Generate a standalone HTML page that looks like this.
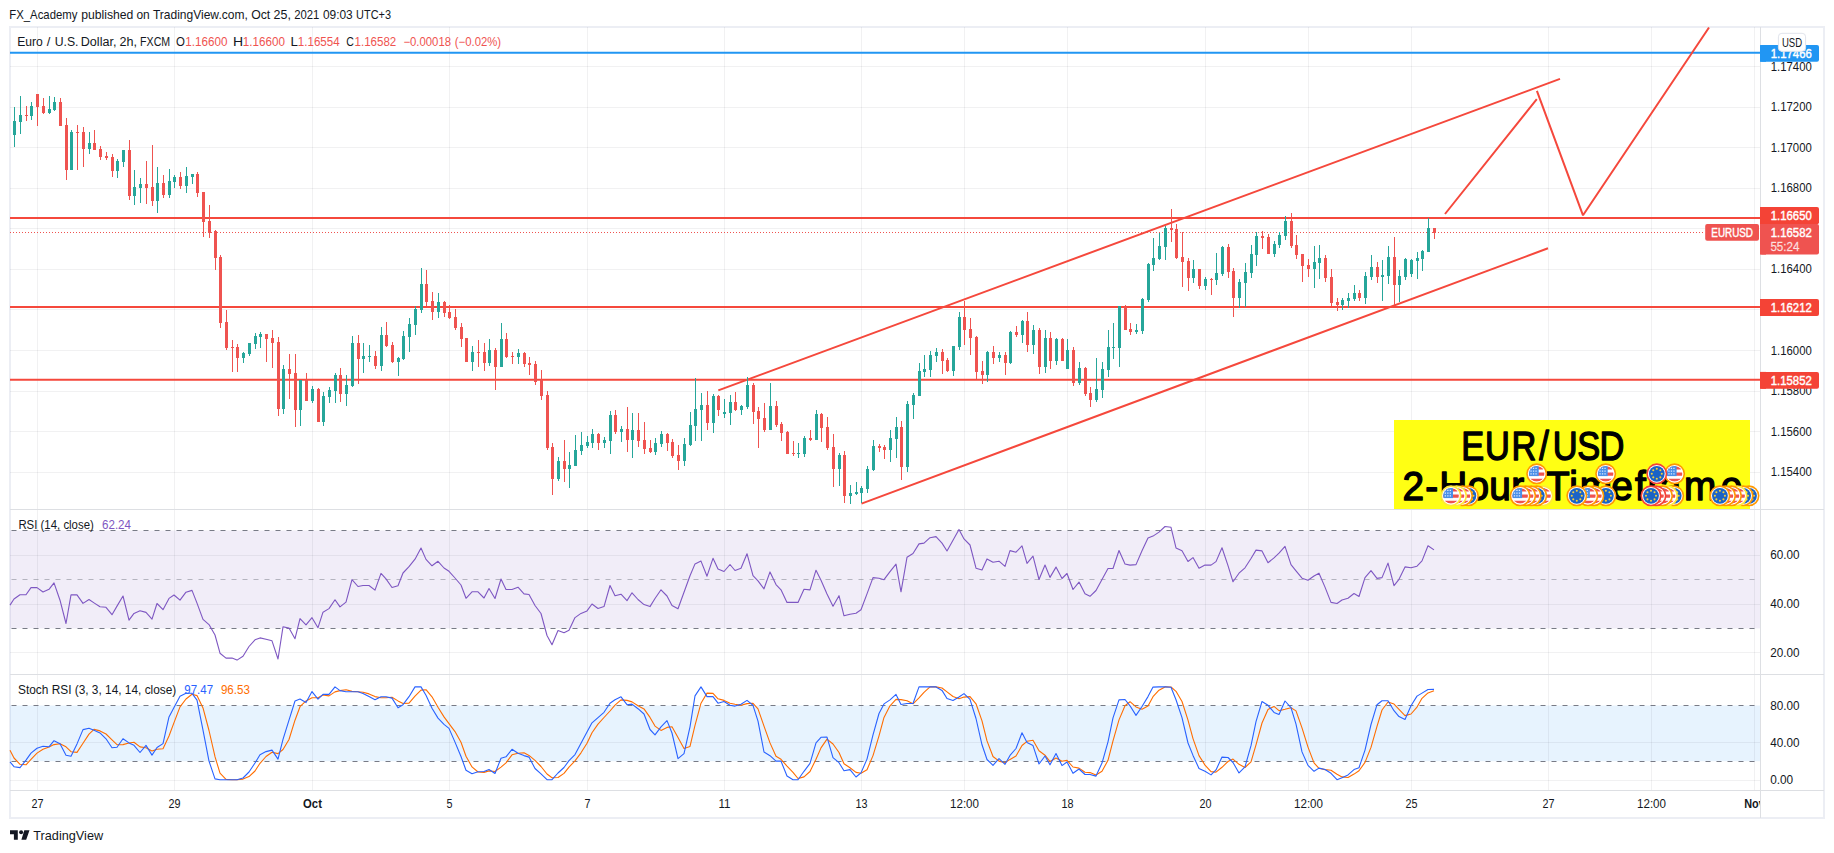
<!DOCTYPE html>
<html lang="en"><head><meta charset="utf-8"><title>EUR/USD 2-Hour Timeframe</title>
<style>html,body{margin:0;padding:0;background:#fff;overflow:hidden}svg{display:block}text{font-family:"Liberation Sans", sans-serif;white-space:pre}</style>
</head><body>
<svg width="1834" height="853" viewBox="0 0 1834 853" font-family='"Liberation Sans", sans-serif'>
<rect x="0" y="0" width="1834" height="853" fill="#fff"/>
<rect x="10" y="27" width="1814" height="791" fill="none" stroke="#eceef4" stroke-width="2"/>
<rect x="10" y="530.5" width="1750.5" height="97.9" fill="#7e57c2" fill-opacity="0.11"/>
<rect x="10" y="705.5" width="1750.5" height="55.7" fill="#2196f3" fill-opacity="0.11"/>
<path d="M37.5 27V790.5M174.5 27V790.5M312.5 27V790.5M449.5 27V790.5M587.5 27V790.5M724.5 27V790.5M861.5 27V790.5M964.5 27V790.5M1067.5 27V790.5M1205.5 27V790.5M1308.5 27V790.5M1411.5 27V790.5M1548.5 27V790.5M1651.5 27V790.5M1754.5 27V790.5M10 66.5H1760.5M10 107.5H1760.5M10 147.5H1760.5M10 188.5H1760.5M10 228.5H1760.5M10 269.5H1760.5M10 309.5H1760.5M10 350.5H1760.5M10 391.5H1760.5M10 431.5H1760.5M10 472.5H1760.5M10 555.5H1760.5M10 604.5H1760.5M10 652.5H1760.5M10 742.5H1760.5M10 780.5H1760.5" stroke="#2a2e39" stroke-opacity="0.065" stroke-width="1" fill="none"/>
<path d="M10 509.5H1824M10 674.5H1824M10 790.5H1824M1760.5 27V818" stroke="#dddfe3" stroke-width="1" fill="none"/>
<path d="M11.5 530.5H1760.5" stroke="#787b86" stroke-opacity="1.0" stroke-width="1" stroke-dasharray="5 6" fill="none"/>
<path d="M11.5 579.5H1760.5" stroke="#787b86" stroke-opacity="0.5" stroke-width="1" stroke-dasharray="5 6" fill="none"/>
<path d="M11.5 628.5H1760.5" stroke="#787b86" stroke-opacity="1.0" stroke-width="1" stroke-dasharray="5 6" fill="none"/>
<path d="M11.5 705.5H1760.5" stroke="#787b86" stroke-opacity="1.0" stroke-width="1" stroke-dasharray="5 6" fill="none"/>
<path d="M11.5 761.5H1760.5" stroke="#787b86" stroke-opacity="1.0" stroke-width="1" stroke-dasharray="5 6" fill="none"/>
<path d="M10 232.5H1705" stroke="#ef5350" stroke-width="1" stroke-dasharray="1 2" fill="none"/>
<path d="M10 52.8H1760.5" stroke="#2196f3" stroke-width="2" fill="none"/>
<path d="M10 218H1760.5M10 307H1760.5M10 379.8H1760.5" stroke="#f5483c" stroke-width="2" fill="none"/>
<path d="M718.3 390.4L1560 78.9M861.5 503.6L1548 248.3" stroke="#f5483c" stroke-width="2" fill="none"/>
<path d="M1445 214L1536.8 99.2M1536.9 90.8L1583 215.3L1709 27.5" stroke="#f5483c" stroke-width="2" fill="none" stroke-linejoin="bevel"/>
<path d="M26 106h1V121h-1zM25 115h3V116h-3zM37 94h1V126h-1zM36 94h3V107h-3zM43 98h1V114h-1zM42 106h3V113h-3zM60 98h1V126h-1zM59 102h3V126h-3zM66 118h1V180h-1zM65 125h3V170h-3zM77 125h1V170h-1zM76 132h3V133h-3zM83 127h1V167h-1zM82 132h3V149h-3zM94 130h1V150h-1zM93 143h3V150h-3zM100 146h1V160h-1zM99 149h3V157h-3zM106 152h1V160h-1zM105 156h3V158h-3zM112 154h1V177h-1zM111 157h3V171h-3zM129 140h1V200h-1zM128 150h3V196h-3zM146 161h1V204h-1zM145 184h3V188h-3zM152 145h1V206h-1zM151 187h3V201h-3zM163 175h1V198h-1zM162 183h3V195h-3zM180 172h1V189h-1zM179 177h3V186h-3zM197 172h1V197h-1zM196 174h3V193h-3zM203 192h1V237h-1zM202 192h3V222h-3zM209 205h1V238h-1zM208 221h3V233h-3zM215 230h1V270h-1zM214 231h3V258h-3zM220 255h1V328h-1zM219 257h3V323h-3zM226 310h1V350h-1zM225 322h3V348h-3zM232 340h1V372h-1zM231 347h3V348h-3zM237 344h1V372h-1zM236 347h3V358h-3zM266 334h1V362h-1zM265 334h3V339h-3zM272 330h1V368h-1zM271 338h3V343h-3zM278 337h1V416h-1zM277 342h3V409h-3zM289 354h1V399h-1zM288 369h3V374h-3zM295 354h1V427h-1zM294 373h3V410h-3zM306 373h1V401h-1zM305 380h3V401h-3zM318 388h1V422h-1zM317 389h3V422h-3zM340 368h1V402h-1zM339 375h3V394h-3zM358 335h1V384h-1zM357 343h3V359h-3zM375 351h1V369h-1zM374 356h3V366h-3zM386 322h1V347h-1zM385 335h3V346h-3zM392 342h1V363h-1zM391 345h3V362h-3zM426 270h1V306h-1zM425 284h3V302h-3zM432 292h1V320h-1zM431 301h3V312h-3zM444 301h1V317h-1zM443 302h3V313h-3zM449 305h1V319h-1zM448 312h3V318h-3zM455 309h1V330h-1zM454 317h3V328h-3zM461 323h1V347h-1zM460 327h3V339h-3zM466 338h1V362h-1zM465 338h3V362h-3zM478 340h1V367h-1zM477 352h3V353h-3zM484 343h1V371h-1zM483 352h3V363h-3zM495 348h1V390h-1zM494 350h3V367h-3zM506 333h1V358h-1zM505 339h3V357h-3zM512 352h1V364h-1zM511 356h3V357h-3zM524 352h1V367h-1zM523 353h3V364h-3zM529 357h1V375h-1zM528 363h3V365h-3zM535 361h1V385h-1zM534 364h3V382h-3zM541 370h1V400h-1zM540 380h3V396h-3zM547 391h1V450h-1zM546 395h3V448h-3zM552 443h1V495h-1zM551 447h3V479h-3zM564 440h1V482h-1zM563 461h3V469h-3zM598 433h1V450h-1zM597 434h3V443h-3zM615 410h1V434h-1zM614 415h3V432h-3zM627 407h1V452h-1zM626 429h3V440h-3zM638 413h1V447h-1zM637 430h3V441h-3zM644 422h1V454h-1zM643 440h3V449h-3zM650 440h1V453h-1zM649 448h3V452h-3zM667 433h1V451h-1zM666 434h3V443h-3zM672 439h1V458h-1zM671 442h3V456h-3zM678 445h1V470h-1zM677 455h3V461h-3zM707 391h1V430h-1zM706 405h3V423h-3zM718 395h1V416h-1zM717 396h3V410h-3zM735 392h1V411h-1zM734 402h3V410h-3zM753 383h1V424h-1zM752 385h3V412h-3zM758 407h1V448h-1zM757 411h3V419h-3zM764 403h1V432h-1zM763 418h3V430h-3zM776 401h1V427h-1zM775 406h3V425h-3zM781 422h1V441h-1zM780 424h3V433h-3zM787 431h1V454h-1zM786 432h3V454h-3zM793 441h1V456h-1zM792 453h3V454h-3zM810 430h1V441h-1zM809 438h3V440h-3zM821 413h1V442h-1zM820 414h3V428h-3zM827 417h1V450h-1zM826 427h3V448h-3zM833 434h1V487h-1zM832 447h3V469h-3zM844 451h1V503h-1zM843 455h3V496h-3zM879 444h1V452h-1zM878 446h3V448h-3zM884 445h1V459h-1zM883 447h3V450h-3zM901 421h1V480h-1zM900 427h3V467h-3zM942 349h1V374h-1zM941 352h3V361h-3zM947 358h1V372h-1zM946 360h3V371h-3zM964 301h1V345h-1zM963 317h3V330h-3zM970 318h1V355h-1zM969 329h3V338h-3zM976 336h1V379h-1zM975 337h3V372h-3zM982 361h1V384h-1zM981 371h3V375h-3zM993 346h1V364h-1zM992 352h3V358h-3zM1005 352h1V375h-1zM1004 355h3V363h-3zM1016 326h1V337h-1zM1015 332h3V335h-3zM1027 312h1V352h-1zM1026 321h3V345h-3zM1039 328h1V374h-1zM1038 330h3V367h-3zM1050 332h1V369h-1zM1049 338h3V361h-3zM1062 338h1V361h-1zM1061 339h3V361h-3zM1073 347h1V386h-1zM1072 350h3V383h-3zM1085 367h1V396h-1zM1084 368h3V394h-3zM1090 387h1V407h-1zM1089 393h3V400h-3zM1125 305h1V330h-1zM1124 307h3V330h-3zM1130 323h1V335h-1zM1129 329h3V332h-3zM1171 209h1V242h-1zM1170 228h3V230h-3zM1176 224h1V259h-1zM1175 229h3V258h-3zM1182 232h1V287h-1zM1181 257h3V262h-3zM1188 258h1V291h-1zM1187 261h3V278h-3zM1199 269h1V289h-1zM1198 269h3V286h-3zM1211 278h1V295h-1zM1210 279h3V280h-3zM1228 244h1V278h-1zM1227 247h3V272h-3zM1233 268h1V317h-1zM1232 271h3V298h-3zM1262 231h1V249h-1zM1261 236h3V238h-3zM1268 234h1V254h-1zM1267 237h3V254h-3zM1291 213h1V248h-1zM1290 221h3V246h-3zM1296 235h1V259h-1zM1295 245h3V255h-3zM1302 254h1V282h-1zM1301 254h3V266h-3zM1308 259h1V277h-1zM1307 265h3V269h-3zM1325 255h1V282h-1zM1324 258h3V278h-3zM1331 269h1V306h-1zM1330 277h3V303h-3zM1337 298h1V311h-1zM1336 302h3V305h-3zM1359 290h1V301h-1zM1358 293h3V298h-3zM1377 262h1V283h-1zM1376 267h3V277h-3zM1394 237h1V305h-1zM1393 257h3V285h-3zM1434 228h1V239h-1zM1433 228h3V233h-3z" fill="#ef5350" shape-rendering="crispEdges"/>
<path d="M14 107h1V147h-1zM13 121h3V135h-3zM20 96h1V134h-1zM19 115h3V122h-3zM31 102h1V120h-1zM30 106h3V116h-3zM49 96h1V114h-1zM48 109h3V113h-3zM54 97h1V111h-1zM53 102h3V110h-3zM71 130h1V170h-1zM70 132h3V170h-3zM89 132h1V154h-1zM88 143h3V149h-3zM117 159h1V178h-1zM116 161h3V171h-3zM123 150h1V167h-1zM122 150h3V162h-3zM134 170h1V205h-1zM133 187h3V196h-3zM140 178h1V203h-1zM139 184h3V188h-3zM157 167h1V213h-1zM156 183h3V201h-3zM169 169h1V198h-1zM168 181h3V195h-3zM174 175h1V188h-1zM173 177h3V182h-3zM186 167h1V193h-1zM185 176h3V186h-3zM192 174h1V184h-1zM191 174h3V177h-3zM243 352h1V363h-1zM242 353h3V358h-3zM249 343h1V356h-1zM248 343h3V354h-3zM255 333h1V349h-1zM254 336h3V344h-3zM260 332h1V348h-1zM259 334h3V337h-3zM283 365h1V414h-1zM282 369h3V409h-3zM300 380h1V426h-1zM299 380h3V410h-3zM312 386h1V403h-1zM311 389h3V401h-3zM323 392h1V426h-1zM322 396h3V422h-3zM329 387h1V403h-1zM328 390h3V397h-3zM335 373h1V403h-1zM334 375h3V391h-3zM346 375h1V406h-1zM345 385h3V394h-3zM352 336h1V387h-1zM351 343h3V386h-3zM363 343h1V373h-1zM362 356h3V359h-3zM369 345h1V362h-1zM368 356h3V357h-3zM381 327h1V371h-1zM380 335h3V366h-3zM398 357h1V376h-1zM397 358h3V362h-3zM403 331h1V360h-1zM402 336h3V359h-3zM409 318h1V352h-1zM408 324h3V337h-3zM415 306h1V335h-1zM414 309h3V325h-3zM421 268h1V313h-1zM420 284h3V310h-3zM438 293h1V318h-1zM437 302h3V312h-3zM472 346h1V371h-1zM471 352h3V362h-3zM489 339h1V366h-1zM488 350h3V363h-3zM501 323h1V367h-1zM500 339h3V367h-3zM518 349h1V364h-1zM517 353h3V357h-3zM558 457h1V481h-1zM557 461h3V479h-3zM569 452h1V488h-1zM568 465h3V469h-3zM575 435h1V466h-1zM574 450h3V466h-3zM581 432h1V455h-1zM580 445h3V451h-3zM587 436h1V448h-1zM586 442h3V446h-3zM592 429h1V448h-1zM591 434h3V443h-3zM604 437h1V448h-1zM603 440h3V443h-3zM610 411h1V454h-1zM609 415h3V441h-3zM621 426h1V442h-1zM620 429h3V432h-3zM632 413h1V458h-1zM631 430h3V440h-3zM655 438h1V455h-1zM654 443h3V452h-3zM661 431h1V447h-1zM660 434h3V444h-3zM684 438h1V466h-1zM683 444h3V461h-3zM690 412h1V446h-1zM689 425h3V445h-3zM695 378h1V441h-1zM694 409h3V426h-3zM701 393h1V441h-1zM700 405h3V410h-3zM713 394h1V433h-1zM712 396h3V423h-3zM724 399h1V418h-1zM723 412h3V414h-3zM730 395h1V425h-1zM729 402h3V413h-3zM741 405h1V415h-1zM740 406h3V410h-3zM747 377h1V409h-1zM746 385h3V407h-3zM770 383h1V430h-1zM769 406h3V430h-3zM798 443h1V458h-1zM797 453h3V454h-3zM804 436h1V457h-1zM803 438h3V454h-3zM816 410h1V440h-1zM815 414h3V440h-3zM839 453h1V486h-1zM838 455h3V469h-3zM850 485h1V504h-1zM849 493h3V496h-3zM856 482h1V495h-1zM855 492h3V494h-3zM861 486h1V503h-1zM860 488h3V493h-3zM867 466h1V493h-1zM866 469h3V489h-3zM873 440h1V471h-1zM872 446h3V470h-3zM890 430h1V462h-1zM889 438h3V450h-3zM896 417h1V458h-1zM895 427h3V439h-3zM907 401h1V472h-1zM906 404h3V467h-3zM913 393h1V419h-1zM912 395h3V405h-3zM919 363h1V396h-1zM918 371h3V396h-3zM924 355h1V377h-1zM923 369h3V372h-3zM930 351h1V377h-1zM929 355h3V370h-3zM936 348h1V362h-1zM935 352h3V356h-3zM953 346h1V376h-1zM952 346h3V371h-3zM959 312h1V350h-1zM958 317h3V347h-3zM987 351h1V382h-1zM986 352h3V375h-3zM999 352h1V362h-1zM998 355h3V358h-3zM1010 331h1V364h-1zM1009 332h3V363h-3zM1022 320h1V343h-1zM1021 321h3V335h-3zM1033 325h1V354h-1zM1032 330h3V345h-3zM1045 330h1V373h-1zM1044 338h3V367h-3zM1056 338h1V365h-1zM1055 339h3V361h-3zM1067 339h1V369h-1zM1066 350h3V369h-3zM1079 362h1V385h-1zM1078 368h3V383h-3zM1096 358h1V402h-1zM1095 389h3V400h-3zM1102 362h1V398h-1zM1101 369h3V390h-3zM1108 330h1V377h-1zM1107 347h3V370h-3zM1113 323h1V359h-1zM1112 347h3V348h-3zM1119 306h1V367h-1zM1118 306h3V348h-3zM1136 324h1V334h-1zM1135 330h3V332h-3zM1142 298h1V334h-1zM1141 299h3V331h-3zM1148 263h1V302h-1zM1147 264h3V300h-3zM1153 238h1V271h-1zM1152 258h3V265h-3zM1159 233h1V260h-1zM1158 246h3V259h-3zM1165 226h1V260h-1zM1164 228h3V247h-3zM1193 260h1V283h-1zM1192 269h3V278h-3zM1205 277h1V290h-1zM1204 279h3V286h-3zM1216 253h1V285h-1zM1215 273h3V280h-3zM1222 246h1V276h-1zM1221 247h3V274h-3zM1239 279h1V308h-1zM1238 282h3V298h-3zM1245 263h1V307h-1zM1244 272h3V283h-3zM1251 245h1V278h-1zM1250 254h3V273h-3zM1256 232h1V266h-1zM1255 236h3V255h-3zM1274 241h1V257h-1zM1273 244h3V254h-3zM1279 232h1V248h-1zM1278 235h3V245h-3zM1285 216h1V240h-1zM1284 221h3V236h-3zM1314 246h1V288h-1zM1313 262h3V269h-3zM1319 245h1V279h-1zM1318 258h3V263h-3zM1342 298h1V310h-1zM1341 300h3V305h-3zM1348 293h1V308h-1zM1347 298h3V301h-3zM1354 285h1V301h-1zM1353 293h3V299h-3zM1365 272h1V304h-1zM1364 276h3V298h-3zM1371 255h1V280h-1zM1370 267h3V277h-3zM1382 260h1V301h-1zM1381 275h3V277h-3zM1388 246h1V284h-1zM1387 257h3V276h-3zM1399 270h1V302h-1zM1398 276h3V285h-3zM1405 258h1V280h-1zM1404 259h3V277h-3zM1411 259h1V277h-1zM1410 260h3V274h-3zM1417 252h1V279h-1zM1416 258h3V261h-3zM1422 250h1V271h-1zM1421 251h3V259h-3zM1428 218h1V252h-1zM1427 228h3V252h-3z" fill="#26a69a" shape-rendering="crispEdges"/>
<rect x="1394" y="420" width="356" height="89" fill="#ffff14"/>
<text transform="scale(0.86 1)" x="1699.0 1726.9 1757.6 1789.8 1805.6 1834.1 1859.8" y="459.6" font-size="40" fill="#000" stroke="#000" stroke-width="1.4" stroke-linejoin="round" xml:space="preserve">EUR/USD</text>
<text transform="scale(0.97 1)" x="1445.8 1469.3 1483.7 1512.9 1535.3 1558.1 1578.1 1593.9 1617.7 1628.7 1661.1 1685.6 1698.5 1710.7 1736.2 1774.0" y="499.8" font-size="40" fill="#000" stroke="#000" stroke-width="1.4" stroke-linejoin="round" xml:space="preserve">2-Hour Timeframe</text>
<g transform="translate(1468.4 495.8)"><circle r="9.7" fill="#fff" stroke="#ff9800" stroke-width="1.6"/><circle r="7.9" fill="#1b63c6"/><g fill="#f2cf3c"><circle cx="5.00" cy="0.00" r="1.05"/><circle cx="3.54" cy="3.54" r="1.05"/><circle cx="0.00" cy="5.00" r="1.05"/><circle cx="-3.54" cy="3.54" r="1.05"/><circle cx="-5.00" cy="0.00" r="1.05"/><circle cx="-3.54" cy="-3.54" r="1.05"/><circle cx="-0.00" cy="-5.00" r="1.05"/><circle cx="3.54" cy="-3.54" r="1.05"/></g></g>
<g transform="translate(1462.5 495.8)"><circle r="9.7" fill="#fff" stroke="#ff9800" stroke-width="1.6"/><clipPath id="c22"><circle r="7.8"/></clipPath><g clip-path="url(#c22)"><rect x="-8" y="-8" width="16" height="16" fill="#fff"/><path d="M-8 -5.8h16M-8 0.3h16M-8 6.4h16" stroke="#ef5350" stroke-width="3.1"/><rect x="-8" y="-8" width="10" height="10.3" fill="#4a8fe8"/><path d="M-6.3 -5.4h7M-6.3 -2.7h7M-6.3 0h7" stroke="#dbe9fb" stroke-width="1.2" stroke-dasharray="1.3 1.2"/></g></g>
<g transform="translate(1456.6 495.8)"><circle r="9.7" fill="#fff" stroke="#ffe838" stroke-width="1.6"/><clipPath id="c23"><circle r="7.8"/></clipPath><g clip-path="url(#c23)"><rect x="-8" y="-8" width="16" height="16" fill="#fff"/><path d="M-8 -5.8h16M-8 0.3h16M-8 6.4h16" stroke="#ef5350" stroke-width="3.1"/><rect x="-8" y="-8" width="10" height="10.3" fill="#4a8fe8"/><path d="M-6.3 -5.4h7M-6.3 -2.7h7M-6.3 0h7" stroke="#dbe9fb" stroke-width="1.2" stroke-dasharray="1.3 1.2"/></g></g>
<g transform="translate(1451.0 495.8)"><circle r="9.7" fill="#fff" stroke="#ffe838" stroke-width="1.6"/><clipPath id="c24"><circle r="7.8"/></clipPath><g clip-path="url(#c24)"><rect x="-8" y="-8" width="16" height="16" fill="#fff"/><path d="M-8 -5.8h16M-8 0.3h16M-8 6.4h16" stroke="#ef5350" stroke-width="3.1"/><rect x="-8" y="-8" width="10" height="10.3" fill="#4a8fe8"/><path d="M-6.3 -5.4h7M-6.3 -2.7h7M-6.3 0h7" stroke="#dbe9fb" stroke-width="1.2" stroke-dasharray="1.3 1.2"/></g></g>
<g transform="translate(1543.0 495.8)"><circle r="9.7" fill="#fff" stroke="#ffe838" stroke-width="1.6"/><clipPath id="c25"><circle r="7.8"/></clipPath><g clip-path="url(#c25)"><rect x="-8" y="-8" width="16" height="16" fill="#fff"/><path d="M-8 -5.8h16M-8 0.3h16M-8 6.4h16" stroke="#ef5350" stroke-width="3.1"/><rect x="-8" y="-8" width="10" height="10.3" fill="#4a8fe8"/><path d="M-6.3 -5.4h7M-6.3 -2.7h7M-6.3 0h7" stroke="#dbe9fb" stroke-width="1.2" stroke-dasharray="1.3 1.2"/></g></g>
<g transform="translate(1536.8 495.8)"><circle r="9.7" fill="#fff" stroke="#ff9800" stroke-width="1.6"/><circle r="7.9" fill="#1b63c6"/><g fill="#f2cf3c"><circle cx="5.00" cy="0.00" r="1.05"/><circle cx="3.54" cy="3.54" r="1.05"/><circle cx="0.00" cy="5.00" r="1.05"/><circle cx="-3.54" cy="3.54" r="1.05"/><circle cx="-5.00" cy="0.00" r="1.05"/><circle cx="-3.54" cy="-3.54" r="1.05"/><circle cx="-0.00" cy="-5.00" r="1.05"/><circle cx="3.54" cy="-3.54" r="1.05"/></g></g>
<g transform="translate(1531.2 495.8)"><circle r="9.7" fill="#fff" stroke="#ff9800" stroke-width="1.6"/><clipPath id="c27"><circle r="7.8"/></clipPath><g clip-path="url(#c27)"><rect x="-8" y="-8" width="16" height="16" fill="#fff"/><path d="M-8 -5.8h16M-8 0.3h16M-8 6.4h16" stroke="#ef5350" stroke-width="3.1"/><rect x="-8" y="-8" width="10" height="10.3" fill="#4a8fe8"/><path d="M-6.3 -5.4h7M-6.3 -2.7h7M-6.3 0h7" stroke="#dbe9fb" stroke-width="1.2" stroke-dasharray="1.3 1.2"/></g></g>
<g transform="translate(1525.7 495.8)"><circle r="9.7" fill="#fff" stroke="#ff9800" stroke-width="1.6"/><clipPath id="c28"><circle r="7.8"/></clipPath><g clip-path="url(#c28)"><rect x="-8" y="-8" width="16" height="16" fill="#fff"/><path d="M-8 -5.8h16M-8 0.3h16M-8 6.4h16" stroke="#ef5350" stroke-width="3.1"/><rect x="-8" y="-8" width="10" height="10.3" fill="#4a8fe8"/><path d="M-6.3 -5.4h7M-6.3 -2.7h7M-6.3 0h7" stroke="#dbe9fb" stroke-width="1.2" stroke-dasharray="1.3 1.2"/></g></g>
<g transform="translate(1520.1 495.8)"><circle r="9.7" fill="#fff" stroke="#ff9800" stroke-width="1.6"/><clipPath id="c29"><circle r="7.8"/></clipPath><g clip-path="url(#c29)"><rect x="-8" y="-8" width="16" height="16" fill="#fff"/><path d="M-8 -5.8h16M-8 0.3h16M-8 6.4h16" stroke="#ef5350" stroke-width="3.1"/><rect x="-8" y="-8" width="10" height="10.3" fill="#4a8fe8"/><path d="M-6.3 -5.4h7M-6.3 -2.7h7M-6.3 0h7" stroke="#dbe9fb" stroke-width="1.2" stroke-dasharray="1.3 1.2"/></g></g>
<g transform="translate(1605.9 495.8)"><circle r="9.7" fill="#fff" stroke="#ff9800" stroke-width="1.6"/><circle r="7.9" fill="#1b63c6"/><g fill="#f2cf3c"><circle cx="5.00" cy="0.00" r="1.05"/><circle cx="3.54" cy="3.54" r="1.05"/><circle cx="0.00" cy="5.00" r="1.05"/><circle cx="-3.54" cy="3.54" r="1.05"/><circle cx="-5.00" cy="0.00" r="1.05"/><circle cx="-3.54" cy="-3.54" r="1.05"/><circle cx="-0.00" cy="-5.00" r="1.05"/><circle cx="3.54" cy="-3.54" r="1.05"/></g></g>
<g transform="translate(1593.9 495.8)"><circle r="9.7" fill="#fff" stroke="#ff9800" stroke-width="1.6"/><clipPath id="c31"><circle r="7.8"/></clipPath><g clip-path="url(#c31)"><rect x="-8" y="-8" width="16" height="16" fill="#fff"/><path d="M-8 -5.8h16M-8 0.3h16M-8 6.4h16" stroke="#ef5350" stroke-width="3.1"/><rect x="-8" y="-8" width="10" height="10.3" fill="#4a8fe8"/><path d="M-6.3 -5.4h7M-6.3 -2.7h7M-6.3 0h7" stroke="#dbe9fb" stroke-width="1.2" stroke-dasharray="1.3 1.2"/></g></g>
<g transform="translate(1587.9 495.8)"><circle r="9.7" fill="#fff" stroke="#ff9800" stroke-width="1.6"/><clipPath id="c32"><circle r="7.8"/></clipPath><g clip-path="url(#c32)"><rect x="-8" y="-8" width="16" height="16" fill="#fff"/><path d="M-8 -5.8h16M-8 0.3h16M-8 6.4h16" stroke="#ef5350" stroke-width="3.1"/><rect x="-8" y="-8" width="10" height="10.3" fill="#4a8fe8"/><path d="M-6.3 -5.4h7M-6.3 -2.7h7M-6.3 0h7" stroke="#dbe9fb" stroke-width="1.2" stroke-dasharray="1.3 1.2"/></g></g>
<g transform="translate(1576.8 495.8)"><circle r="9.7" fill="#fff" stroke="#ff9800" stroke-width="1.6"/><circle r="7.9" fill="#1b63c6"/><g fill="#f2cf3c"><circle cx="5.00" cy="0.00" r="1.05"/><circle cx="3.54" cy="3.54" r="1.05"/><circle cx="0.00" cy="5.00" r="1.05"/><circle cx="-3.54" cy="3.54" r="1.05"/><circle cx="-5.00" cy="0.00" r="1.05"/><circle cx="-3.54" cy="-3.54" r="1.05"/><circle cx="-0.00" cy="-5.00" r="1.05"/><circle cx="3.54" cy="-3.54" r="1.05"/></g></g>
<g transform="translate(1673.7 495.8)"><circle r="9.7" fill="#fff" stroke="#ff9800" stroke-width="1.6"/><circle r="7.9" fill="#1b63c6"/><g fill="#f2cf3c"><circle cx="5.00" cy="0.00" r="1.05"/><circle cx="3.54" cy="3.54" r="1.05"/><circle cx="0.00" cy="5.00" r="1.05"/><circle cx="-3.54" cy="3.54" r="1.05"/><circle cx="-5.00" cy="0.00" r="1.05"/><circle cx="-3.54" cy="-3.54" r="1.05"/><circle cx="-0.00" cy="-5.00" r="1.05"/><circle cx="3.54" cy="-3.54" r="1.05"/></g></g>
<g transform="translate(1667.6 495.8)"><circle r="9.7" fill="#fff" stroke="#ffe838" stroke-width="1.6"/><clipPath id="c35"><circle r="7.8"/></clipPath><g clip-path="url(#c35)"><rect x="-8" y="-8" width="16" height="16" fill="#fff"/><path d="M-8 -5.8h16M-8 0.3h16M-8 6.4h16" stroke="#ef5350" stroke-width="3.1"/><rect x="-8" y="-8" width="10" height="10.3" fill="#4a8fe8"/><path d="M-6.3 -5.4h7M-6.3 -2.7h7M-6.3 0h7" stroke="#dbe9fb" stroke-width="1.2" stroke-dasharray="1.3 1.2"/></g></g>
<g transform="translate(1662.5 495.8)"><circle r="9.7" fill="#fff" stroke="#ff9800" stroke-width="1.6"/><clipPath id="c36"><circle r="7.8"/></clipPath><g clip-path="url(#c36)"><rect x="-8" y="-8" width="16" height="16" fill="#fff"/><path d="M-8 -5.8h16M-8 0.3h16M-8 6.4h16" stroke="#ef5350" stroke-width="3.1"/><rect x="-8" y="-8" width="10" height="10.3" fill="#4a8fe8"/><path d="M-6.3 -5.4h7M-6.3 -2.7h7M-6.3 0h7" stroke="#dbe9fb" stroke-width="1.2" stroke-dasharray="1.3 1.2"/></g></g>
<g transform="translate(1656.0 495.8)"><circle r="9.7" fill="#fff" stroke="#f44336" stroke-width="1.6"/><clipPath id="c37"><circle r="7.8"/></clipPath><g clip-path="url(#c37)"><rect x="-8" y="-8" width="16" height="16" fill="#fff"/><path d="M-8 -5.8h16M-8 0.3h16M-8 6.4h16" stroke="#ef5350" stroke-width="3.1"/><rect x="-8" y="-8" width="10" height="10.3" fill="#4a8fe8"/><path d="M-6.3 -5.4h7M-6.3 -2.7h7M-6.3 0h7" stroke="#dbe9fb" stroke-width="1.2" stroke-dasharray="1.3 1.2"/></g></g>
<g transform="translate(1651.0 495.8)"><circle r="9.7" fill="#fff" stroke="#f44336" stroke-width="1.6"/><circle r="7.9" fill="#1b63c6"/><g fill="#f2cf3c"><circle cx="5.00" cy="0.00" r="1.05"/><circle cx="3.54" cy="3.54" r="1.05"/><circle cx="0.00" cy="5.00" r="1.05"/><circle cx="-3.54" cy="3.54" r="1.05"/><circle cx="-5.00" cy="0.00" r="1.05"/><circle cx="-3.54" cy="-3.54" r="1.05"/><circle cx="-0.00" cy="-5.00" r="1.05"/><circle cx="3.54" cy="-3.54" r="1.05"/></g></g>
<g transform="translate(1749.0 495.8)"><circle r="9.7" fill="#fff" stroke="#ff9800" stroke-width="1.6"/><circle r="7.9" fill="#1b63c6"/><g fill="#f2cf3c"><circle cx="5.00" cy="0.00" r="1.05"/><circle cx="3.54" cy="3.54" r="1.05"/><circle cx="0.00" cy="5.00" r="1.05"/><circle cx="-3.54" cy="3.54" r="1.05"/><circle cx="-5.00" cy="0.00" r="1.05"/><circle cx="-3.54" cy="-3.54" r="1.05"/><circle cx="-0.00" cy="-5.00" r="1.05"/><circle cx="3.54" cy="-3.54" r="1.05"/></g></g>
<g transform="translate(1743.1 495.8)"><circle r="9.7" fill="#fff" stroke="#ff9800" stroke-width="1.6"/><circle r="7.9" fill="#1b63c6"/><g fill="#f2cf3c"><circle cx="5.00" cy="0.00" r="1.05"/><circle cx="3.54" cy="3.54" r="1.05"/><circle cx="0.00" cy="5.00" r="1.05"/><circle cx="-3.54" cy="3.54" r="1.05"/><circle cx="-5.00" cy="0.00" r="1.05"/><circle cx="-3.54" cy="-3.54" r="1.05"/><circle cx="-0.00" cy="-5.00" r="1.05"/><circle cx="3.54" cy="-3.54" r="1.05"/></g></g>
<g transform="translate(1737.1 495.8)"><circle r="9.7" fill="#fff" stroke="#ffe838" stroke-width="1.6"/><clipPath id="c41"><circle r="7.8"/></clipPath><g clip-path="url(#c41)"><rect x="-8" y="-8" width="16" height="16" fill="#fff"/><path d="M-8 -5.8h16M-8 0.3h16M-8 6.4h16" stroke="#ef5350" stroke-width="3.1"/><rect x="-8" y="-8" width="10" height="10.3" fill="#4a8fe8"/><path d="M-6.3 -5.4h7M-6.3 -2.7h7M-6.3 0h7" stroke="#dbe9fb" stroke-width="1.2" stroke-dasharray="1.3 1.2"/></g></g>
<g transform="translate(1731.5 495.8)"><circle r="9.7" fill="#fff" stroke="#ff9800" stroke-width="1.6"/><clipPath id="c42"><circle r="7.8"/></clipPath><g clip-path="url(#c42)"><rect x="-8" y="-8" width="16" height="16" fill="#fff"/><path d="M-8 -5.8h16M-8 0.3h16M-8 6.4h16" stroke="#ef5350" stroke-width="3.1"/><rect x="-8" y="-8" width="10" height="10.3" fill="#4a8fe8"/><path d="M-6.3 -5.4h7M-6.3 -2.7h7M-6.3 0h7" stroke="#dbe9fb" stroke-width="1.2" stroke-dasharray="1.3 1.2"/></g></g>
<g transform="translate(1725.5 495.8)"><circle r="9.7" fill="#fff" stroke="#ff9800" stroke-width="1.6"/><clipPath id="c43"><circle r="7.8"/></clipPath><g clip-path="url(#c43)"><rect x="-8" y="-8" width="16" height="16" fill="#fff"/><path d="M-8 -5.8h16M-8 0.3h16M-8 6.4h16" stroke="#ef5350" stroke-width="3.1"/><rect x="-8" y="-8" width="10" height="10.3" fill="#4a8fe8"/><path d="M-6.3 -5.4h7M-6.3 -2.7h7M-6.3 0h7" stroke="#dbe9fb" stroke-width="1.2" stroke-dasharray="1.3 1.2"/></g></g>
<g transform="translate(1719.9 495.8)"><circle r="9.7" fill="#fff" stroke="#ff9800" stroke-width="1.6"/><circle r="7.9" fill="#1b63c6"/><g fill="#f2cf3c"><circle cx="5.00" cy="0.00" r="1.05"/><circle cx="3.54" cy="3.54" r="1.05"/><circle cx="0.00" cy="5.00" r="1.05"/><circle cx="-3.54" cy="3.54" r="1.05"/><circle cx="-5.00" cy="0.00" r="1.05"/><circle cx="-3.54" cy="-3.54" r="1.05"/><circle cx="-0.00" cy="-5.00" r="1.05"/><circle cx="3.54" cy="-3.54" r="1.05"/></g></g>
<g transform="translate(1674.6 473.8)"><circle r="9.7" fill="#fff" stroke="#ff9800" stroke-width="1.6"/><clipPath id="c45"><circle r="7.8"/></clipPath><g clip-path="url(#c45)"><rect x="-8" y="-8" width="16" height="16" fill="#fff"/><path d="M-8 -5.8h16M-8 0.3h16M-8 6.4h16" stroke="#ef5350" stroke-width="3.1"/><rect x="-8" y="-8" width="10" height="10.3" fill="#4a8fe8"/><path d="M-6.3 -5.4h7M-6.3 -2.7h7M-6.3 0h7" stroke="#dbe9fb" stroke-width="1.2" stroke-dasharray="1.3 1.2"/></g></g>
<g transform="translate(1656.8 473.8)"><circle r="9.7" fill="#fff" stroke="#f44336" stroke-width="1.6"/><circle r="7.9" fill="#1b63c6"/><g fill="#f2cf3c"><circle cx="5.00" cy="0.00" r="1.05"/><circle cx="3.54" cy="3.54" r="1.05"/><circle cx="0.00" cy="5.00" r="1.05"/><circle cx="-3.54" cy="3.54" r="1.05"/><circle cx="-5.00" cy="0.00" r="1.05"/><circle cx="-3.54" cy="-3.54" r="1.05"/><circle cx="-0.00" cy="-5.00" r="1.05"/><circle cx="3.54" cy="-3.54" r="1.05"/></g></g>
<g transform="translate(1605.7 473.8)"><circle r="9.7" fill="#fff" stroke="#ff9800" stroke-width="1.6"/><clipPath id="c47"><circle r="7.8"/></clipPath><g clip-path="url(#c47)"><rect x="-8" y="-8" width="16" height="16" fill="#fff"/><path d="M-8 -5.8h16M-8 0.3h16M-8 6.4h16" stroke="#ef5350" stroke-width="3.1"/><rect x="-8" y="-8" width="10" height="10.3" fill="#4a8fe8"/><path d="M-6.3 -5.4h7M-6.3 -2.7h7M-6.3 0h7" stroke="#dbe9fb" stroke-width="1.2" stroke-dasharray="1.3 1.2"/></g></g>
<g transform="translate(1536.7 473.8)"><circle r="9.7" fill="#fff" stroke="#ff9800" stroke-width="1.6"/><clipPath id="c48"><circle r="7.8"/></clipPath><g clip-path="url(#c48)"><rect x="-8" y="-8" width="16" height="16" fill="#fff"/><path d="M-8 -5.8h16M-8 0.3h16M-8 6.4h16" stroke="#ef5350" stroke-width="3.1"/><rect x="-8" y="-8" width="10" height="10.3" fill="#4a8fe8"/><path d="M-6.3 -5.4h7M-6.3 -2.7h7M-6.3 0h7" stroke="#dbe9fb" stroke-width="1.2" stroke-dasharray="1.3 1.2"/></g></g>
<polyline points="10.0,605.1 14.0,599.0 20.0,594.7 26.0,594.7 31.0,587.6 37.0,587.6 43.0,592.0 49.0,589.3 54.0,582.9 60.0,600.2 66.0,623.5 71.0,594.9 77.0,594.9 83.0,603.4 89.0,599.5 94.0,602.9 100.0,606.8 106.0,607.3 112.0,614.7 117.0,606.1 123.0,596.0 129.0,620.2 134.0,613.4 140.0,610.8 146.0,612.4 152.0,619.2 157.0,603.5 163.0,609.7 169.0,598.4 174.0,595.0 180.0,600.2 186.0,592.2 192.0,590.4 197.0,603.1 203.0,619.4 209.0,624.6 215.0,635.0 220.0,653.2 226.0,658.1 232.0,658.1 237.0,660.1 243.0,656.2 249.0,646.5 255.0,639.8 260.0,637.9 266.0,639.3 272.0,640.8 278.0,659.0 283.0,626.8 289.0,628.1 295.0,638.7 300.0,618.6 306.0,624.9 312.0,617.7 318.0,627.7 323.0,612.2 329.0,608.6 335.0,599.8 340.0,606.9 346.0,602.1 352.0,579.6 358.0,586.5 363.0,585.5 369.0,585.5 375.0,590.1 381.0,573.4 386.0,578.9 392.0,587.5 398.0,585.7 403.0,573.0 409.0,566.7 415.0,559.2 421.0,548.0 426.0,559.4 432.0,565.8 438.0,561.3 444.0,568.0 449.0,571.3 455.0,578.0 461.0,585.0 466.0,598.3 472.0,591.8 478.0,591.8 484.0,598.0 489.0,588.5 495.0,598.5 501.0,579.0 506.0,589.5 512.0,589.5 518.0,587.2 524.0,593.9 529.0,594.5 535.0,605.5 541.0,613.5 547.0,635.5 552.0,644.7 558.0,630.5 564.0,632.8 569.0,630.3 575.0,617.6 581.0,613.4 587.0,610.9 592.0,604.0 598.0,608.5 604.0,606.6 610.0,585.5 615.0,595.8 621.0,594.2 627.0,600.6 632.0,592.8 638.0,599.5 644.0,604.6 650.0,606.6 655.0,598.5 661.0,589.8 667.0,596.0 672.0,605.4 678.0,608.8 684.0,592.3 690.0,575.8 695.0,563.9 701.0,561.1 707.0,576.2 713.0,558.3 718.0,569.1 724.0,571.5 730.0,564.5 735.0,570.5 741.0,568.3 747.0,553.7 753.0,575.7 758.0,580.9 764.0,588.8 770.0,571.9 776.0,584.6 781.0,589.8 787.0,602.4 793.0,602.4 798.0,602.4 804.0,589.2 810.0,589.9 816.0,570.2 821.0,580.3 827.0,594.0 833.0,606.2 839.0,595.7 844.0,615.8 850.0,614.2 856.0,613.3 861.0,609.8 867.0,593.9 873.0,577.6 879.0,578.3 884.0,579.7 890.0,571.7 896.0,564.2 901.0,591.8 907.0,557.3 913.0,553.5 919.0,543.9 924.0,543.1 930.0,537.7 936.0,536.6 942.0,543.1 947.0,551.0 953.0,540.3 959.0,529.4 964.0,538.9 970.0,545.0 976.0,568.2 982.0,570.0 987.0,558.9 993.0,562.3 999.0,561.2 1005.0,566.3 1010.0,550.6 1016.0,552.2 1022.0,545.8 1027.0,563.4 1033.0,556.1 1039.0,579.5 1045.0,565.0 1050.0,577.4 1056.0,567.1 1062.0,578.5 1067.0,573.5 1073.0,589.5 1079.0,582.1 1085.0,593.7 1090.0,596.3 1096.0,590.5 1102.0,579.5 1108.0,568.5 1113.0,568.5 1119.0,550.5 1125.0,564.0 1130.0,565.1 1136.0,564.6 1142.0,550.8 1148.0,538.1 1153.0,536.1 1159.0,532.1 1165.0,526.5 1171.0,527.3 1176.0,547.9 1182.0,550.7 1188.0,561.5 1193.0,557.6 1199.0,568.3 1205.0,565.1 1211.0,565.1 1216.0,561.6 1222.0,547.8 1228.0,565.6 1233.0,581.8 1239.0,573.2 1245.0,567.8 1251.0,558.5 1256.0,550.1 1262.0,550.9 1268.0,562.7 1274.0,557.9 1279.0,553.2 1285.0,546.3 1291.0,564.6 1296.0,570.8 1302.0,578.2 1308.0,580.2 1314.0,576.0 1319.0,573.2 1325.0,587.1 1331.0,602.4 1337.0,603.5 1342.0,600.0 1348.0,598.2 1354.0,593.5 1359.0,596.5 1365.0,577.7 1371.0,570.6 1377.0,578.4 1382.0,577.6 1388.0,563.1 1394.0,585.7 1399.0,579.3 1405.0,566.9 1411.0,567.8 1417.0,566.2 1422.0,560.9 1428.0,545.7 1434.0,549.9" fill="none" stroke="#7e57c2" stroke-width="1.1" stroke-linejoin="round"/>
<polyline points="10.0,750.3 14.0,758.0 20.0,764.3 26.0,764.8 31.0,759.4 37.0,753.1 43.0,749.3 49.0,747.0 54.0,744.6 60.0,743.7 66.0,746.8 71.0,751.7 77.0,752.4 83.0,743.2 89.0,734.1 94.0,729.4 100.0,730.9 106.0,734.0 112.0,739.9 117.0,744.7 123.0,744.6 129.0,743.0 134.0,742.3 140.0,746.9 146.0,747.7 152.0,751.0 157.0,749.3 163.0,748.7 169.0,736.0 174.0,722.6 180.0,706.9 186.0,699.0 192.0,694.3 197.0,695.6 203.0,707.9 209.0,730.5 215.0,756.7 220.0,773.2 226.0,779.4 232.0,779.7 237.0,779.7 243.0,779.1 249.0,776.6 255.0,771.0 260.0,763.3 266.0,756.5 272.0,752.2 278.0,753.6 283.0,749.5 289.0,739.5 295.0,720.2 300.0,706.7 306.0,700.9 312.0,697.8 318.0,697.8 323.0,695.0 329.0,695.9 335.0,691.9 340.0,690.6 346.0,689.8 352.0,691.4 358.0,691.8 363.0,692.3 369.0,693.9 375.0,696.6 381.0,697.7 386.0,697.7 392.0,697.2 398.0,700.9 403.0,703.5 409.0,703.1 415.0,696.1 421.0,690.1 426.0,689.7 432.0,696.8 438.0,707.2 444.0,716.9 449.0,723.6 455.0,731.6 461.0,742.3 466.0,756.3 472.0,766.9 478.0,772.0 484.0,772.4 489.0,770.9 495.0,771.5 501.0,767.1 506.0,762.8 512.0,754.8 518.0,753.2 524.0,752.8 529.0,755.4 535.0,760.4 541.0,766.5 547.0,774.0 552.0,777.7 558.0,777.5 564.0,773.4 569.0,767.1 575.0,760.9 581.0,752.8 587.0,743.3 592.0,732.7 598.0,724.1 604.0,717.5 610.0,711.0 615.0,705.1 621.0,699.9 627.0,700.4 632.0,701.9 638.0,705.8 644.0,708.9 650.0,717.4 655.0,726.1 661.0,730.4 667.0,727.4 672.0,726.8 678.0,737.4 684.0,748.4 690.0,746.4 695.0,725.4 701.0,703.2 707.0,693.1 713.0,693.4 718.0,698.8 724.0,700.4 730.0,703.3 735.0,704.3 741.0,705.2 747.0,703.6 753.0,703.3 758.0,708.9 764.0,726.1 770.0,742.9 776.0,756.3 781.0,759.3 787.0,766.1 793.0,772.3 798.0,778.5 804.0,776.9 810.0,771.5 816.0,759.2 821.0,747.9 827.0,739.1 833.0,744.0 839.0,752.5 844.0,763.7 850.0,767.7 856.0,772.4 861.0,773.2 867.0,769.7 873.0,755.6 879.0,735.8 884.0,717.4 890.0,705.8 896.0,699.4 901.0,699.6 907.0,700.8 913.0,703.8 919.0,697.9 924.0,692.4 930.0,686.9 936.0,686.9 942.0,688.0 947.0,691.9 953.0,696.5 959.0,698.7 964.0,697.1 970.0,696.6 976.0,703.8 982.0,720.9 987.0,740.9 993.0,756.5 999.0,761.1 1005.0,762.7 1010.0,759.4 1016.0,756.0 1022.0,745.5 1027.0,741.3 1033.0,740.3 1039.0,750.7 1045.0,755.2 1050.0,761.6 1056.0,758.1 1062.0,761.3 1067.0,760.4 1073.0,767.0 1079.0,768.1 1085.0,772.3 1090.0,772.6 1096.0,775.0 1102.0,771.3 1108.0,760.3 1113.0,740.9 1119.0,719.9 1125.0,705.8 1130.0,701.7 1136.0,706.9 1142.0,709.2 1148.0,706.1 1153.0,696.7 1159.0,690.2 1165.0,686.9 1171.0,687.0 1176.0,691.3 1182.0,701.5 1188.0,720.1 1193.0,738.6 1199.0,755.6 1205.0,765.1 1211.0,771.6 1216.0,772.1 1222.0,767.3 1228.0,761.5 1233.0,759.1 1239.0,764.3 1245.0,767.5 1251.0,761.8 1256.0,744.8 1262.0,723.0 1268.0,709.5 1274.0,706.4 1279.0,710.7 1285.0,709.3 1291.0,707.7 1296.0,710.9 1302.0,727.9 1308.0,747.1 1314.0,762.9 1319.0,768.3 1325.0,769.6 1331.0,770.3 1337.0,774.2 1342.0,776.9 1348.0,777.5 1354.0,774.1 1359.0,770.7 1365.0,762.4 1371.0,747.4 1377.0,726.4 1382.0,710.0 1388.0,702.0 1394.0,704.1 1399.0,709.3 1405.0,715.6 1411.0,714.0 1417.0,707.1 1422.0,698.3 1428.0,692.9 1434.0,690.7" fill="none" stroke="#ff6d00" stroke-width="1.1" stroke-linejoin="round"/>
<polyline points="10.0,761.9 14.0,766.7 20.0,767.6 26.0,760.1 31.0,753.1 37.0,748.2 43.0,746.3 49.0,746.8 54.0,740.7 60.0,743.7 66.0,755.2 71.0,756.3 77.0,743.9 83.0,729.6 89.0,728.2 94.0,730.3 100.0,732.9 106.0,738.8 112.0,747.8 117.0,747.3 123.0,738.7 129.0,742.9 134.0,745.3 140.0,752.5 146.0,745.4 152.0,755.1 157.0,747.5 163.0,743.6 169.0,716.9 174.0,707.4 180.0,696.3 186.0,693.3 192.0,693.3 197.0,700.1 203.0,730.2 209.0,761.1 215.0,778.9 220.0,779.7 226.0,779.7 232.0,779.7 237.0,779.7 243.0,778.0 249.0,772.0 255.0,763.0 260.0,754.8 266.0,751.6 272.0,750.1 278.0,759.1 283.0,739.3 289.0,720.1 295.0,701.0 300.0,699.1 306.0,702.6 312.0,691.6 318.0,699.1 323.0,694.4 329.0,694.4 335.0,686.9 340.0,690.6 346.0,691.8 352.0,691.8 358.0,691.7 363.0,693.5 369.0,696.6 375.0,699.7 381.0,696.7 386.0,696.8 392.0,698.1 398.0,707.8 403.0,704.7 409.0,696.7 415.0,686.9 421.0,686.9 426.0,695.3 432.0,708.3 438.0,718.1 444.0,724.4 449.0,728.4 455.0,742.1 461.0,756.5 466.0,770.3 472.0,773.8 478.0,771.8 484.0,771.5 489.0,769.5 495.0,773.5 501.0,758.2 506.0,756.8 512.0,749.3 518.0,753.3 524.0,755.6 529.0,757.1 535.0,768.5 541.0,773.8 547.0,779.7 552.0,779.7 558.0,773.0 564.0,767.5 569.0,760.7 575.0,754.6 581.0,743.3 587.0,731.9 592.0,722.8 598.0,717.6 604.0,712.3 610.0,703.3 615.0,699.7 621.0,696.8 627.0,704.7 632.0,704.1 638.0,708.7 644.0,714.0 650.0,729.5 655.0,734.8 661.0,726.8 667.0,720.6 672.0,733.0 678.0,758.7 684.0,753.6 690.0,726.8 695.0,695.9 701.0,686.9 707.0,696.6 713.0,696.6 718.0,703.2 724.0,701.5 730.0,705.2 735.0,706.1 741.0,704.2 747.0,700.4 753.0,705.3 758.0,721.1 764.0,752.0 770.0,755.7 776.0,761.1 781.0,761.1 787.0,776.0 793.0,779.7 798.0,779.7 804.0,771.3 810.0,763.4 816.0,742.9 821.0,737.3 827.0,737.1 833.0,757.6 839.0,762.7 844.0,770.7 850.0,769.6 856.0,777.0 861.0,772.9 867.0,759.1 873.0,734.9 879.0,713.5 884.0,703.9 890.0,699.9 896.0,694.4 901.0,704.5 907.0,703.5 913.0,703.5 919.0,686.9 924.0,686.9 930.0,686.9 936.0,686.9 942.0,690.4 947.0,698.5 953.0,700.5 959.0,697.0 964.0,693.6 970.0,699.3 976.0,718.5 982.0,744.8 987.0,759.5 993.0,765.3 999.0,758.6 1005.0,764.3 1010.0,755.4 1016.0,748.5 1022.0,732.8 1027.0,742.6 1033.0,745.6 1039.0,764.0 1045.0,756.0 1050.0,764.8 1056.0,753.5 1062.0,765.6 1067.0,762.0 1073.0,773.3 1079.0,769.0 1085.0,774.5 1090.0,774.5 1096.0,776.1 1102.0,763.1 1108.0,741.8 1113.0,717.9 1119.0,699.9 1125.0,699.5 1130.0,705.8 1136.0,715.4 1142.0,706.5 1148.0,696.6 1153.0,687.1 1159.0,686.9 1165.0,686.9 1171.0,687.2 1176.0,699.8 1182.0,717.6 1188.0,743.0 1193.0,755.4 1199.0,768.5 1205.0,771.3 1211.0,774.9 1216.0,769.9 1222.0,757.1 1228.0,757.5 1233.0,762.5 1239.0,772.9 1245.0,766.9 1251.0,745.7 1256.0,721.7 1262.0,701.5 1268.0,705.3 1274.0,712.4 1279.0,714.5 1285.0,701.0 1291.0,707.7 1296.0,724.1 1302.0,751.9 1308.0,765.4 1314.0,771.3 1319.0,768.1 1325.0,769.5 1331.0,773.3 1337.0,779.7 1342.0,777.8 1348.0,774.9 1354.0,769.6 1359.0,767.7 1365.0,750.1 1371.0,724.5 1377.0,704.7 1382.0,700.7 1388.0,700.7 1394.0,710.7 1399.0,716.6 1405.0,719.5 1411.0,705.8 1417.0,696.1 1422.0,693.1 1428.0,689.5 1434.0,689.4" fill="none" stroke="#2962ff" stroke-width="1.1" stroke-linejoin="round"/>
<text y="19.1" font-size="13" fill="#131722" font-weight="400"><tspan x="9.3" textLength="68.1" lengthAdjust="spacingAndGlyphs">FX_Academy</tspan> <tspan x="81.2" textLength="52.2" lengthAdjust="spacingAndGlyphs">published</tspan> <tspan x="136.4" textLength="13.3" lengthAdjust="spacingAndGlyphs">on</tspan> <tspan x="152.9" textLength="94.9" lengthAdjust="spacingAndGlyphs">TradingView.com,</tspan> <tspan x="251.2" textLength="19.1" lengthAdjust="spacingAndGlyphs">Oct</tspan> <tspan x="273.6" textLength="17.3" lengthAdjust="spacingAndGlyphs">25,</tspan> <tspan x="294.2" textLength="25.2" lengthAdjust="spacingAndGlyphs">2021</tspan> <tspan x="322.9" textLength="29.8" lengthAdjust="spacingAndGlyphs">09:03</tspan> <tspan x="356.1" textLength="34.9" lengthAdjust="spacingAndGlyphs">UTC+3</tspan></text>
<text y="46.2" font-size="12" fill="#131722" font-weight="400"><tspan x="17.2" textLength="25.6" lengthAdjust="spacingAndGlyphs">Euro</tspan> <tspan x="46.8" textLength="3.6" lengthAdjust="spacingAndGlyphs">/</tspan> <tspan x="54.7" textLength="23.8" lengthAdjust="spacingAndGlyphs">U.S.</tspan> <tspan x="80.8" textLength="35.6" lengthAdjust="spacingAndGlyphs">Dollar,</tspan> <tspan x="119.5" textLength="17.5" lengthAdjust="spacingAndGlyphs">2h,</tspan> <tspan x="140.1" textLength="30.1" lengthAdjust="spacingAndGlyphs">FXCM</tspan> <tspan x="176.1" textLength="8.9" lengthAdjust="spacingAndGlyphs">O</tspan> <tspan x="185.3" textLength="42.1" lengthAdjust="spacingAndGlyphs" fill="#ef5350">1.16600</tspan> <tspan x="232.9" textLength="10.1" lengthAdjust="spacingAndGlyphs">H</tspan> <tspan x="242.8" textLength="42.1" lengthAdjust="spacingAndGlyphs" fill="#ef5350">1.16600</tspan> <tspan x="290.5" textLength="6.9" lengthAdjust="spacingAndGlyphs">L</tspan> <tspan x="297.8" textLength="41.9" lengthAdjust="spacingAndGlyphs" fill="#ef5350">1.16554</tspan> <tspan x="346.3" textLength="7.6" lengthAdjust="spacingAndGlyphs">C</tspan> <tspan x="354.5" textLength="41.8" lengthAdjust="spacingAndGlyphs" fill="#ef5350">1.16582</tspan> <tspan x="403.4" textLength="47.6" lengthAdjust="spacingAndGlyphs" fill="#ef5350">−0.00018</tspan> <tspan x="454.8" textLength="46.3" lengthAdjust="spacingAndGlyphs" fill="#ef5350">(−0.02%)</tspan></text>
<text x="1770.8" y="71.0" font-size="12" fill="#131722" text-anchor="start" font-weight="400" textLength="41.0" lengthAdjust="spacingAndGlyphs">1.17400</text>
<text x="1770.8" y="111.0" font-size="12" fill="#131722" text-anchor="start" font-weight="400" textLength="41.0" lengthAdjust="spacingAndGlyphs">1.17200</text>
<text x="1770.8" y="152.0" font-size="12" fill="#131722" text-anchor="start" font-weight="400" textLength="41.0" lengthAdjust="spacingAndGlyphs">1.17000</text>
<text x="1770.8" y="192.0" font-size="12" fill="#131722" text-anchor="start" font-weight="400" textLength="41.0" lengthAdjust="spacingAndGlyphs">1.16800</text>
<text x="1770.8" y="273.0" font-size="12" fill="#131722" text-anchor="start" font-weight="400" textLength="41.0" lengthAdjust="spacingAndGlyphs">1.16400</text>
<text x="1770.8" y="355.0" font-size="12" fill="#131722" text-anchor="start" font-weight="400" textLength="41.0" lengthAdjust="spacingAndGlyphs">1.16000</text>
<text x="1770.8" y="395.0" font-size="12" fill="#131722" text-anchor="start" font-weight="400" textLength="41.0" lengthAdjust="spacingAndGlyphs">1.15800</text>
<text x="1770.8" y="436.0" font-size="12" fill="#131722" text-anchor="start" font-weight="400" textLength="41.0" lengthAdjust="spacingAndGlyphs">1.15600</text>
<text x="1770.8" y="476.0" font-size="12" fill="#131722" text-anchor="start" font-weight="400" textLength="41.0" lengthAdjust="spacingAndGlyphs">1.15400</text>
<text x="1770.2" y="558.9" font-size="12" fill="#131722" text-anchor="start" font-weight="400" textLength="29.3" lengthAdjust="spacingAndGlyphs">60.00</text>
<text x="1770.2" y="608.2" font-size="12" fill="#131722" text-anchor="start" font-weight="400" textLength="29.3" lengthAdjust="spacingAndGlyphs">40.00</text>
<text x="1770.2" y="657.2" font-size="12" fill="#131722" text-anchor="start" font-weight="400" textLength="29.3" lengthAdjust="spacingAndGlyphs">20.00</text>
<text x="1770.2" y="709.9" font-size="12" fill="#131722" text-anchor="start" font-weight="400" textLength="29.3" lengthAdjust="spacingAndGlyphs">80.00</text>
<text x="1770.2" y="747.2" font-size="12" fill="#131722" text-anchor="start" font-weight="400" textLength="29.3" lengthAdjust="spacingAndGlyphs">40.00</text>
<text x="1770.2" y="783.8" font-size="12" fill="#131722" text-anchor="start" font-weight="400" textLength="23.0" lengthAdjust="spacingAndGlyphs">0.00</text>
<rect x="1760.0" y="45.1" width="59.0" height="16.699999999999996" rx="2" fill="#2196f3"/>
<rect x="1760.0" y="45.1" width="6" height="16.699999999999996" fill="#2196f3"/>
<text x="1770.8" y="57.8" font-size="12" fill="#fff" text-anchor="start" font-weight="400" textLength="41.0" lengthAdjust="spacingAndGlyphs" stroke="#fff" stroke-width="0.4">1.17466</text>
<rect x="1778.4" y="33.3" width="27.2" height="18" rx="3.5" fill="#fff" stroke="#e0e3eb" stroke-width="1"/>
<text x="1781.9" y="46.9" font-size="12" fill="#131722" text-anchor="start" font-weight="400" textLength="20.2" lengthAdjust="spacingAndGlyphs">USD</text>
<rect x="1760.0" y="207" width="59.0" height="17.30000000000001" rx="2" fill="#f44336"/>
<rect x="1760.0" y="207" width="6" height="17.30000000000001" fill="#f44336"/>
<text x="1770.8" y="219.7" font-size="12" fill="#fff" text-anchor="start" font-weight="400" textLength="41.0" lengthAdjust="spacingAndGlyphs" stroke="#fff" stroke-width="0.4">1.16650</text>
<rect x="1760.0" y="224" width="59.0" height="30.599999999999994" rx="2" fill="#ef5350"/>
<rect x="1760.0" y="224" width="6" height="30.599999999999994" fill="#ef5350"/>
<text x="1770.8" y="236.8" font-size="12" fill="#fff" text-anchor="start" font-weight="400" textLength="41.0" lengthAdjust="spacingAndGlyphs" stroke="#fff" stroke-width="0.4">1.16582</text>
<text x="1770.4" y="251.0" font-size="12" fill="#fff" text-anchor="start" font-weight="400" textLength="29.1" lengthAdjust="spacingAndGlyphs" fill-opacity="0.75" stroke="#fff" stroke-width="0.3" stroke-opacity="0.6">55:24</text>
<rect x="1705.2" y="224" width="53.799999999999955" height="16.80000000000001" rx="2" fill="#ef5350"/>
<text x="1711.3" y="236.8" font-size="12" fill="#fff" text-anchor="start" font-weight="400" textLength="41.7" lengthAdjust="spacingAndGlyphs" stroke="#fff" stroke-width="0.4">EURUSD</text>
<rect x="1760.0" y="299" width="59.0" height="17" rx="2" fill="#f44336"/>
<rect x="1760.0" y="299" width="6" height="17" fill="#f44336"/>
<text x="1770.8" y="312.1" font-size="12" fill="#fff" text-anchor="start" font-weight="400" textLength="41.0" lengthAdjust="spacingAndGlyphs" stroke="#fff" stroke-width="0.4">1.16212</text>
<rect x="1760.0" y="371.9" width="59.0" height="16.900000000000034" rx="2" fill="#f44336"/>
<rect x="1760.0" y="371.9" width="6" height="16.900000000000034" fill="#f44336"/>
<text x="1770.8" y="385.0" font-size="12" fill="#fff" text-anchor="start" font-weight="400" textLength="41.0" lengthAdjust="spacingAndGlyphs" stroke="#fff" stroke-width="0.4">1.15852</text>
<text x="18.4" y="528.7" font-size="12" fill="#131722" text-anchor="start" font-weight="400" textLength="75.4" lengthAdjust="spacingAndGlyphs">RSI (14, close)</text>
<text x="102.0" y="528.7" font-size="12" fill="#7e57c2" text-anchor="start" font-weight="400" textLength="29.0" lengthAdjust="spacingAndGlyphs">62.24</text>
<text x="18.0" y="694.1" font-size="12" fill="#131722" text-anchor="start" font-weight="400" textLength="158.3" lengthAdjust="spacingAndGlyphs">Stoch RSI (3, 3, 14, 14, close)</text>
<text x="184.3" y="694.1" font-size="12" fill="#2962ff" text-anchor="start" font-weight="400" textLength="28.8" lengthAdjust="spacingAndGlyphs">97.47</text>
<text x="220.9" y="694.1" font-size="12" fill="#ff6d00" text-anchor="start" font-weight="400" textLength="29.0" lengthAdjust="spacingAndGlyphs">96.53</text>
<clipPath id="tc"><rect x="10" y="790.5" width="1750.0" height="30"/></clipPath><g clip-path="url(#tc)">
<text x="31.5" y="808.0" font-size="12" fill="#131722" text-anchor="start" font-weight="400" textLength="12.0" lengthAdjust="spacingAndGlyphs">27</text>
<text x="168.5" y="808.0" font-size="12" fill="#131722" text-anchor="start" font-weight="400" textLength="12.0" lengthAdjust="spacingAndGlyphs">29</text>
<text x="303.1" y="808.0" font-size="12" fill="#131722" text-anchor="start" font-weight="700" textLength="18.8" lengthAdjust="spacingAndGlyphs">Oct</text>
<text x="446.5" y="808.0" font-size="12" fill="#131722" text-anchor="start" font-weight="400" textLength="6.0" lengthAdjust="spacingAndGlyphs">5</text>
<text x="584.5" y="808.0" font-size="12" fill="#131722" text-anchor="start" font-weight="400" textLength="6.0" lengthAdjust="spacingAndGlyphs">7</text>
<text x="718.5" y="808.0" font-size="12" fill="#131722" text-anchor="start" font-weight="400" textLength="12.0" lengthAdjust="spacingAndGlyphs">11</text>
<text x="855.5" y="808.0" font-size="12" fill="#131722" text-anchor="start" font-weight="400" textLength="12.0" lengthAdjust="spacingAndGlyphs">13</text>
<text x="950.0" y="808.0" font-size="12" fill="#131722" text-anchor="start" font-weight="400" textLength="29.0" lengthAdjust="spacingAndGlyphs">12:00</text>
<text x="1061.5" y="808.0" font-size="12" fill="#131722" text-anchor="start" font-weight="400" textLength="12.0" lengthAdjust="spacingAndGlyphs">18</text>
<text x="1199.5" y="808.0" font-size="12" fill="#131722" text-anchor="start" font-weight="400" textLength="12.0" lengthAdjust="spacingAndGlyphs">20</text>
<text x="1294.0" y="808.0" font-size="12" fill="#131722" text-anchor="start" font-weight="400" textLength="29.0" lengthAdjust="spacingAndGlyphs">12:00</text>
<text x="1405.5" y="808.0" font-size="12" fill="#131722" text-anchor="start" font-weight="400" textLength="12.0" lengthAdjust="spacingAndGlyphs">25</text>
<text x="1542.5" y="808.0" font-size="12" fill="#131722" text-anchor="start" font-weight="400" textLength="12.0" lengthAdjust="spacingAndGlyphs">27</text>
<text x="1637.0" y="808.0" font-size="12" fill="#131722" text-anchor="start" font-weight="400" textLength="29.0" lengthAdjust="spacingAndGlyphs">12:00</text>
<text x="1744.2" y="808.0" font-size="12" fill="#131722" text-anchor="start" font-weight="700" textLength="20.5" lengthAdjust="spacingAndGlyphs">Nov</text>
</g>
<path d="M10 830.2h7.8v9.6h-3.9v-5.5H10zM24.3 830.2h5.2l-3.3 9.6h-4.8z" fill="#131722"/><circle cx="21.1" cy="832.3" r="2" fill="#131722"/>
<text x="33.3" y="839.8" font-size="13" fill="#131722" text-anchor="start" font-weight="400" textLength="69.8" lengthAdjust="spacingAndGlyphs">TradingView</text>
</svg>
</body></html>
